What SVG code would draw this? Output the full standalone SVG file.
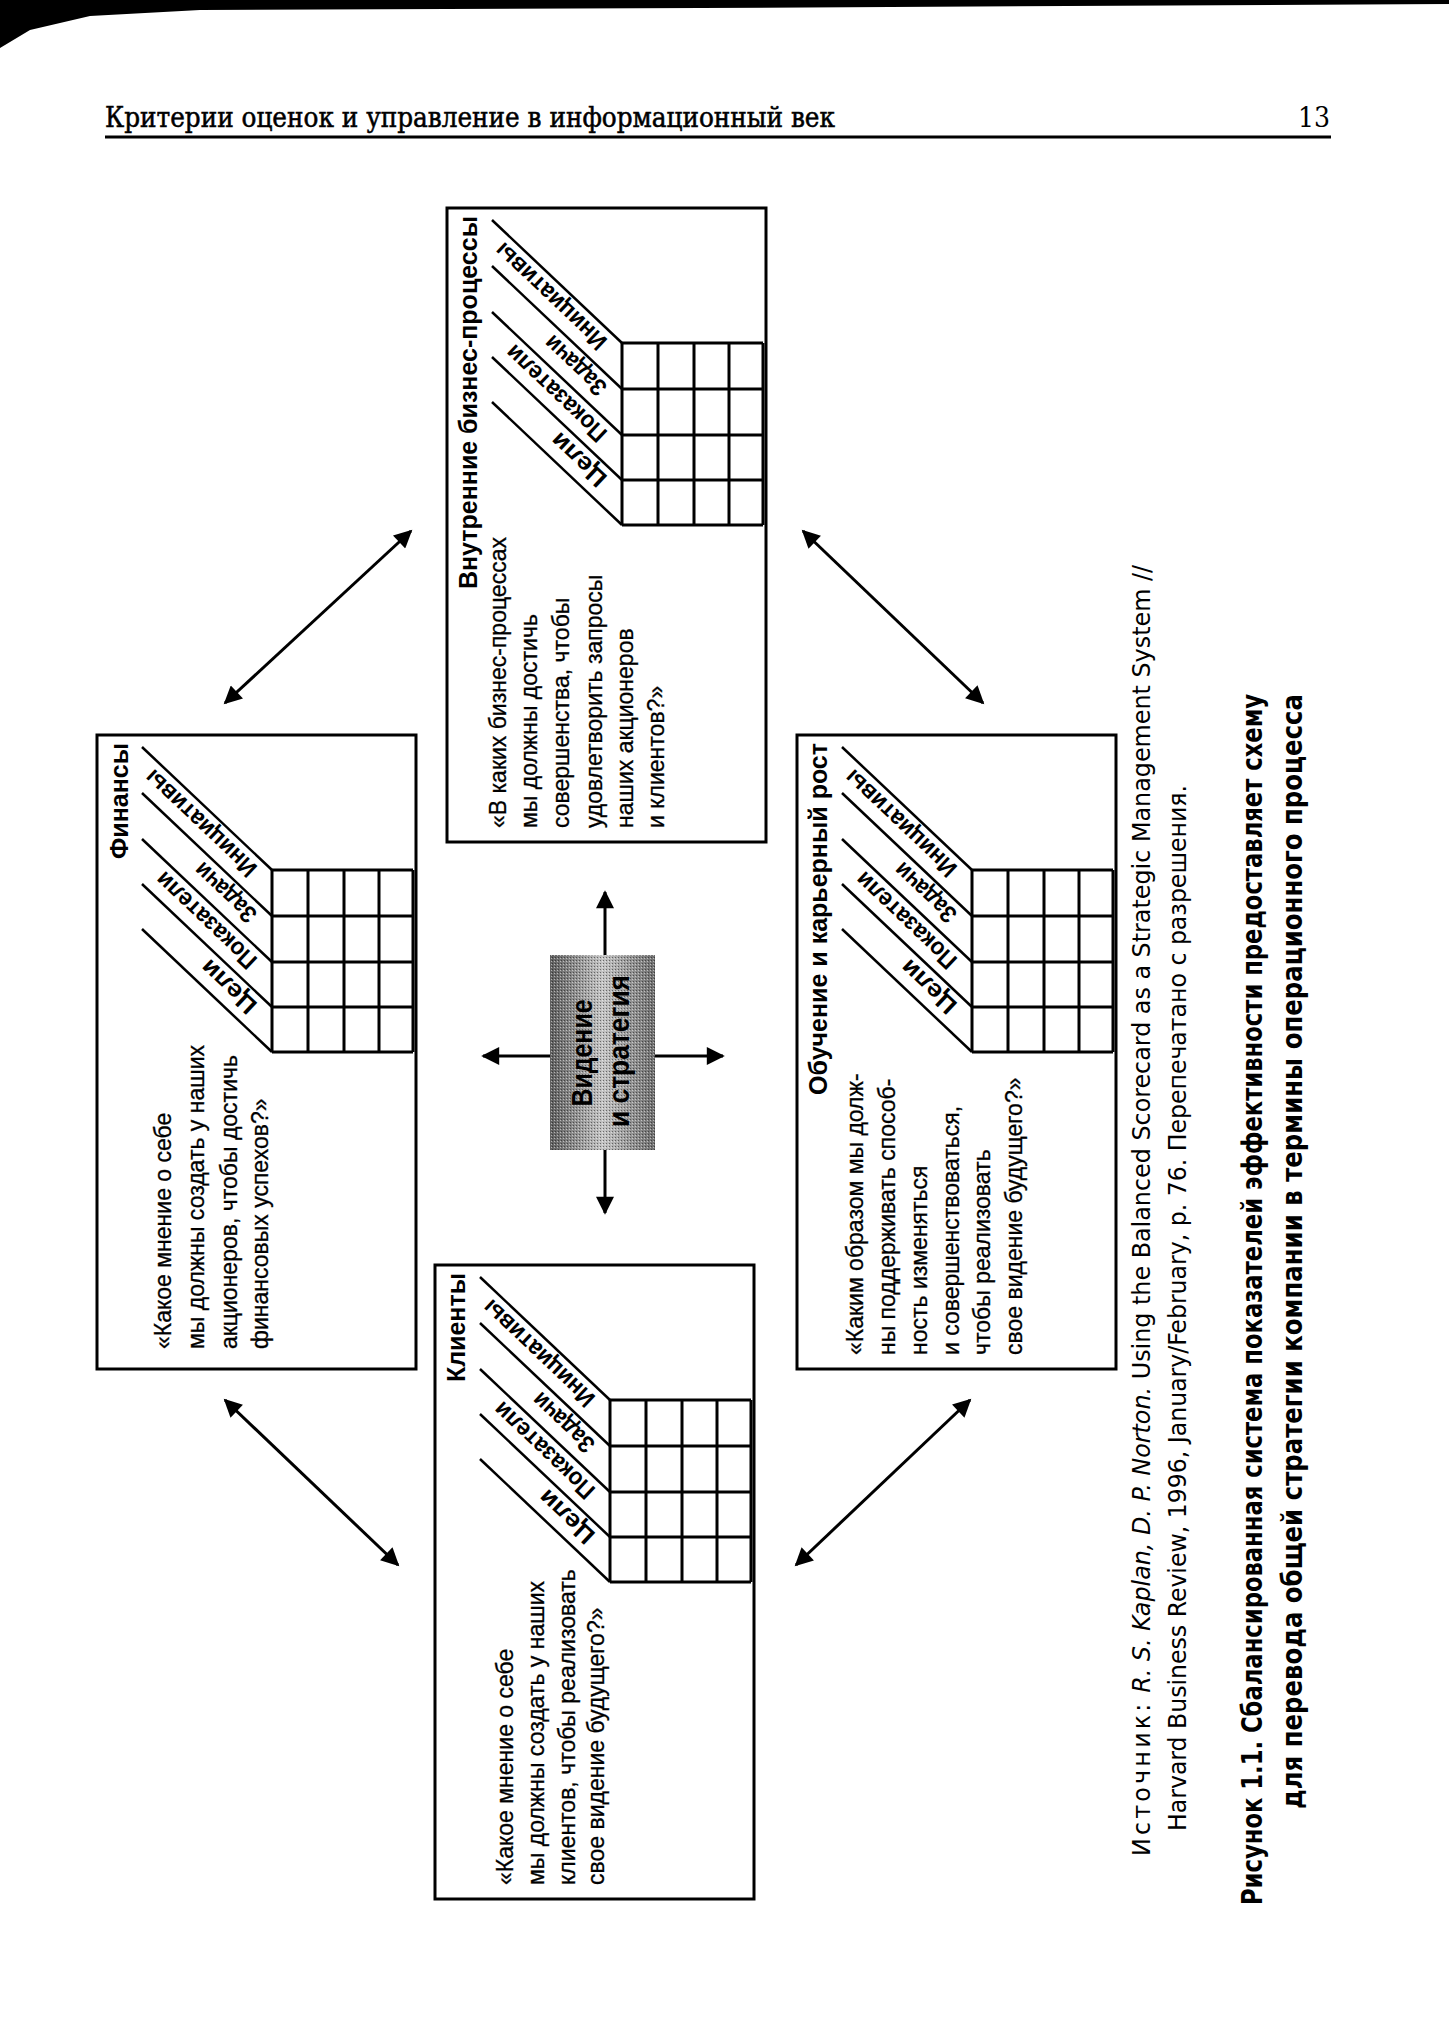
<svg xmlns="http://www.w3.org/2000/svg" width="1449" height="2021" viewBox="0 0 1449 2021">
<defs>
<style>
.box{fill:#fff;stroke:#000;stroke-width:3}
.grid{fill:none;stroke:#000;stroke-width:3}
.diag{stroke:#000;stroke-width:2.5}
.t{font-family:"Liberation Sans","DejaVu Sans",sans-serif;fill:#000}
.title{font-weight:bold;font-size:25px}
.q{font-size:23px;stroke:#000;stroke-width:0.3}
.lab{font-size:24px;font-weight:bold}
.conn{stroke:#000;stroke-width:3;fill:none}
.cap{font-family:"Liberation Sans Narrow","DejaVu Sans Condensed","Liberation Sans",sans-serif;fill:#000}
</style>
<marker id="ah" viewBox="0 0 10 10" refX="9" refY="5" markerWidth="7" markerHeight="6" markerUnits="strokeWidth" orient="auto-start-reverse">
<path d="M0,0 L10,5 L0,10 z" fill="#000"/>
</marker>
<linearGradient id="gr" x1="0" y1="0" x2="1" y2="0">
<stop offset="0" stop-color="#5e5e5e"/>
<stop offset="0.5" stop-color="#c4c4c4"/>
<stop offset="1" stop-color="#6e6e6e"/>
</linearGradient>
<pattern id="dots" width="3" height="3" patternUnits="userSpaceOnUse">
<rect x="0" y="0" width="1" height="1" fill="#000" opacity="0.45"/>
<rect x="2" y="1" width="1" height="1" fill="#fff" opacity="0.5"/>
</pattern>
<g id="frame">
<rect class="box" x="0" y="0" width="319" height="634"/>
<path class="grid" d="M175,135V317M211,135V317M247,135V317M282,135V317M316,135V317M175,135H316M175,181H316M175,227H316M175,272H316M175,317H316"/>
<line class="diag" x1="45" y1="12" x2="175" y2="135"/>
<line class="diag" x1="45" y1="58" x2="175" y2="181"/>
<line class="diag" x1="45" y1="104" x2="175" y2="227"/>
<line class="diag" x1="45" y1="149" x2="175" y2="272"/>
<line class="diag" x1="45" y1="194" x2="175" y2="317"/>
<text class="t lab" transform="translate(161.5,132) rotate(-136.6)" textLength="144" lengthAdjust="spacingAndGlyphs">Инициативы</text>
<text class="t lab" transform="translate(161.5,178) rotate(-136.6)" textLength="76" lengthAdjust="spacingAndGlyphs">Задачи</text>
<text class="t lab" transform="translate(161.5,224) rotate(-136.6)" textLength="129" lengthAdjust="spacingAndGlyphs">Показатели</text>
<text class="t lab" transform="translate(161.5,269) rotate(-136.6)" textLength="67" lengthAdjust="spacingAndGlyphs">Цели</text>
</g>
</defs>

<g id="page-header">
<path d="M0,0 H1449 V4 L700,8 L200,10 L90,16 L30,30 L0,48 Z" fill="#000"/>
<text x="105" y="127" font-family="DejaVu Serif Condensed,Liberation Serif,serif" font-size="27" stroke="#000" stroke-width="0.5" textLength="730" lengthAdjust="spacingAndGlyphs">Критерии оценок и управление в информационный век</text>
<text x="1330" y="127" text-anchor="end" font-family="DejaVu Serif Condensed,Liberation Serif,serif" font-size="28">13</text>
<line x1="105" y1="137" x2="1331" y2="137" stroke="#000" stroke-width="3"/>
</g>

<g id="connectors">
<line class="conn" x1="225" y1="703" x2="411" y2="531" marker-start="url(#ah)" marker-end="url(#ah)"/>
<line class="conn" x1="803" y1="531" x2="983" y2="703" marker-start="url(#ah)" marker-end="url(#ah)"/>
<line class="conn" x1="225" y1="1400" x2="398" y2="1565" marker-start="url(#ah)" marker-end="url(#ah)"/>
<line class="conn" x1="796" y1="1565" x2="970" y2="1400" marker-start="url(#ah)" marker-end="url(#ah)"/>
<line class="conn" stroke-width="4" x1="605" y1="955" x2="605" y2="892" marker-end="url(#ah)"/>
<line class="conn" stroke-width="4" x1="605" y1="1150" x2="605" y2="1213" marker-end="url(#ah)"/>
<line class="conn" stroke-width="4" x1="550" y1="1056" x2="483" y2="1056" marker-end="url(#ah)"/>
<line class="conn" stroke-width="4" x1="655" y1="1056" x2="723" y2="1056" marker-end="url(#ah)"/>
</g>

<g id="node-business" transform="translate(447,208)">
<use href="#frame"/>
<text class="t title" transform="translate(30,8) rotate(-90)" text-anchor="end">Внутренние бизнес-процессы</text>
<g class="t q">
<text transform="translate(59,620) rotate(-90)">«В каких бизнес-процессах</text>
<text transform="translate(90,620) rotate(-90)">мы должны достичь</text>
<text transform="translate(122,620) rotate(-90)">совершенства, чтобы</text>
<text transform="translate(155,620) rotate(-90)">удовлетворить запросы</text>
<text transform="translate(186,620) rotate(-90)">наших акционеров</text>
<text transform="translate(217,620) rotate(-90)">и клиентов?»</text>
</g>
</g>

<g id="node-finance" transform="translate(97,735)">
<use href="#frame"/>
<text class="t title" transform="translate(31,8) rotate(-90)" text-anchor="end">Финансы</text>
<g class="t q">
<text transform="translate(74,614) rotate(-90)">«Какое мнение о себе</text>
<text transform="translate(107,614) rotate(-90)">мы должны создать у наших</text>
<text transform="translate(140,614) rotate(-90)">акционеров, чтобы достичь</text>
<text transform="translate(171,614) rotate(-90)">финансовых успехов?»</text>
</g>
</g>

<g id="node-learning" transform="translate(797,735)">
<use href="#frame"/>
<text class="t title" transform="translate(30,8) rotate(-90)" text-anchor="end">Обучение и карьерный рост</text>
<g class="t q">
<text transform="translate(66,620) rotate(-90)">«Каким образом мы долж-</text>
<text transform="translate(98,620) rotate(-90)">ны поддерживать способ-</text>
<text transform="translate(130,620) rotate(-90)">ность изменяться</text>
<text transform="translate(162,620) rotate(-90)">и совершенствоваться,</text>
<text transform="translate(193,620) rotate(-90)">чтобы реализовать</text>
<text transform="translate(225,620) rotate(-90)">свое видение будущего?»</text>
</g>
</g>

<g id="node-clients" transform="translate(435,1265)">
<use href="#frame"/>
<text class="t title" transform="translate(30,8) rotate(-90)" text-anchor="end">Клиенты</text>
<g class="t q">
<text transform="translate(78,620) rotate(-90)">«Какое мнение о себе</text>
<text transform="translate(109,620) rotate(-90)">мы должны создать у наших</text>
<text transform="translate(140,620) rotate(-90)">клиентов, чтобы реализовать</text>
<text transform="translate(169,620) rotate(-90)">свое видение будущего?»</text>
</g>
</g>

<g id="node-vision">
<rect x="550" y="955" width="105" height="195" fill="url(#gr)"/>
<rect x="550" y="955" width="105" height="195" fill="url(#dots)"/>
<text class="t" font-weight="bold" font-size="30" fill="#1a1a1a" transform="translate(592,1053) rotate(-90)" text-anchor="middle" textLength="107" lengthAdjust="spacingAndGlyphs">Видение</text>
<text class="t" font-weight="bold" font-size="30" fill="#1a1a1a" transform="translate(629,1051) rotate(-90)" text-anchor="middle" textLength="152" lengthAdjust="spacingAndGlyphs">и стратегия</text>
</g>

<g id="caption">
<text class="cap" font-size="25" transform="translate(1150,1856) rotate(-90)" textLength="1291" lengthAdjust="spacingAndGlyphs"><tspan letter-spacing="3">Источник:</tspan> <tspan font-style="italic">R. S. Kaplan, D. P. Norton.</tspan> Using the Balanced Scorecard as a Strategic Management System //</text>
<text class="cap" font-size="25" transform="translate(1186,1831) rotate(-90)" textLength="1046" lengthAdjust="spacingAndGlyphs">Harvard Business Review, 1996, January/February, p. 76. Перепечатано с разрешения.</text>
<text class="cap" font-size="28" font-weight="bold" transform="translate(1262,1905) rotate(-90)" textLength="1211" lengthAdjust="spacingAndGlyphs">Рисунок 1.1. Сбалансированная система показателей эффективности предоставляет схему</text>
<text class="cap" font-size="28" font-weight="bold" transform="translate(1302,1809) rotate(-90)" textLength="1115" lengthAdjust="spacingAndGlyphs">для перевода общей стратегии компании в термины операционного процесса</text>
</g>
</svg>
